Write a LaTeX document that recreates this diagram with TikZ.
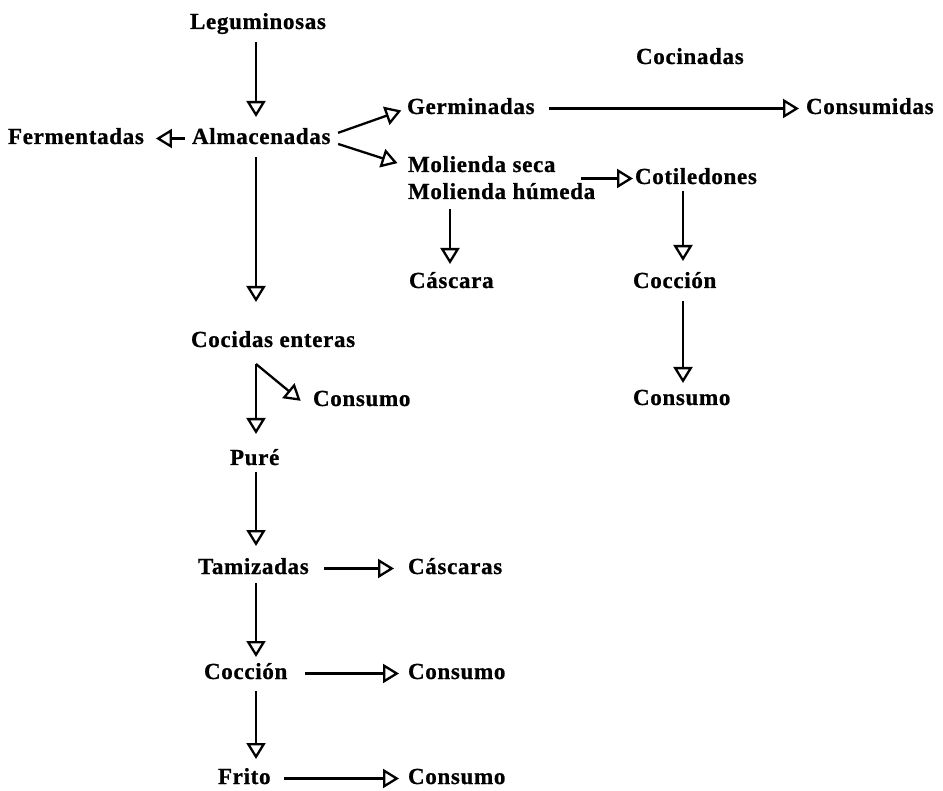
\documentclass[tikz,border=0pt]{standalone}
\usepackage{fontspec}
\setmainfont{Liberation Serif}[LetterSpace=3,BoldFeatures={FakeBold=0.8}]
\usetikzlibrary{arrows.meta}
\begin{document}
\begin{tikzpicture}[x=1pt,y=-1pt,
  lbl/.style={inner sep=0pt, outer sep=0pt, anchor=base west, text height=16pt, text depth=5pt,
              font=\fontsize{23}{27}\selectfont\bfseries},
  arr/.style={line width=2.3pt, -{Triangle[open, length=16pt, width=19pt]}}]
\useasboundingbox (0,0) rectangle (943,791);

\node[lbl] (leg)   at (190,29)  {Leguminosas};
\node[lbl] (cocin) at (636,64)  {Cocinadas};
\node[lbl] (germ)  at (407,114) {Germinadas};
\node[lbl] (consd) at (806,114) {Consumidas};
\node[lbl] (ferm)  at (8,144)   {Fermentadas};
\node[lbl] (alm)   at (192,144) {Almacenadas};
\node[lbl] (mol1)  at (408,172) {Molienda seca};
\node[lbl] (mol2)  at (408,199) {Molienda húmeda};
\node[lbl] (cot)   at (635,184) {Cotiledones};
\node[lbl] (casc)  at (409,288) {Cáscara};
\node[lbl] (cocR)  at (633,288) {Cocción};
\node[lbl] (consR) at (633,405) {Consumo};
\node[lbl] (cocid) at (191,347) {Cocidas enteras};
\node[lbl] (consA) at (313,406) {Consumo};
\node[lbl] (pure)  at (230,465) {Puré};
\node[lbl] (tam)   at (198,574) {Tamizadas};
\node[lbl] (cascs) at (408,574) {Cáscaras};
\node[lbl] (cocL)  at (204,679) {Cocción};
\node[lbl] (consB) at (408,679) {Consumo};
\node[lbl] (frito) at (218,784) {Frito};
\node[lbl] (consC) at (408,784) {Consumo};

\coordinate (colL) at (256,0);
\coordinate (colR) at (683,0);
\coordinate (colM) at (450,0);
\coordinate (knee) at ([yshift=-12pt]cocid.south -| colL);

\draw[arr, shorten <=8pt, shorten >=11pt] (leg.south -| colL) -- (alm.north -| colL);
\draw[arr, shorten <=8pt, shorten >=29pt] (alm.south -| colL) -- (cocid.north -| colL);
\draw[arr, shorten <=7pt, shorten >=12pt] (alm.west) -- (ferm.east);
\draw[arr, shorten <=8pt, shorten >=6pt] ([yshift=3pt]alm.east) -- (germ.west);
\draw[arr, shorten <=8pt, shorten >=11pt] ([yshift=-3pt]alm.east) -- (mol1.west);
\draw[arr, shorten <=14pt, shorten >=7pt] (germ.east) -- (consd.west);
\draw[arr, shorten >=2pt] ([xshift=-14pt]cot.west -| mol2.east) -- (cot.west);
\draw[arr, shorten <=5pt, shorten >=8pt] (mol2.south -| colM) -- (casc.north -| colM);
\draw[arr, shorten <=2pt, shorten >=11pt] (cot.south -| colR) -- (cocR.north -| colR);
\draw[arr, shorten <=8pt, shorten >=6pt] (cocR.south -| colR) -- (consR.north -| colR);
\draw[arr, shorten >=15pt] (knee) -- (pure.north -| knee);
\draw[arr, shorten >=16pt] (knee) -- (consA.south west);
\draw[arr, shorten <=2pt, shorten >=12pt] (pure.south -| colL) -- (tam.north -| colL);
\draw[arr, shorten <=15pt, shorten >=14pt] (tam.east) -- (cascs.west);
\draw[arr, shorten <=4pt, shorten >=6pt] (tam.south -| colL) -- (cocL.north -| colL);
\draw[arr, shorten <=18pt, shorten >=9pt] (cocL.east) -- (consB.west);
\draw[arr, shorten <=7pt, shorten >=9pt] (cocL.south -| colL) -- (frito.north -| colL);
\draw[arr, shorten <=13pt, shorten >=9pt] (frito.east) -- (consC.west);
\end{tikzpicture}
\end{document}
